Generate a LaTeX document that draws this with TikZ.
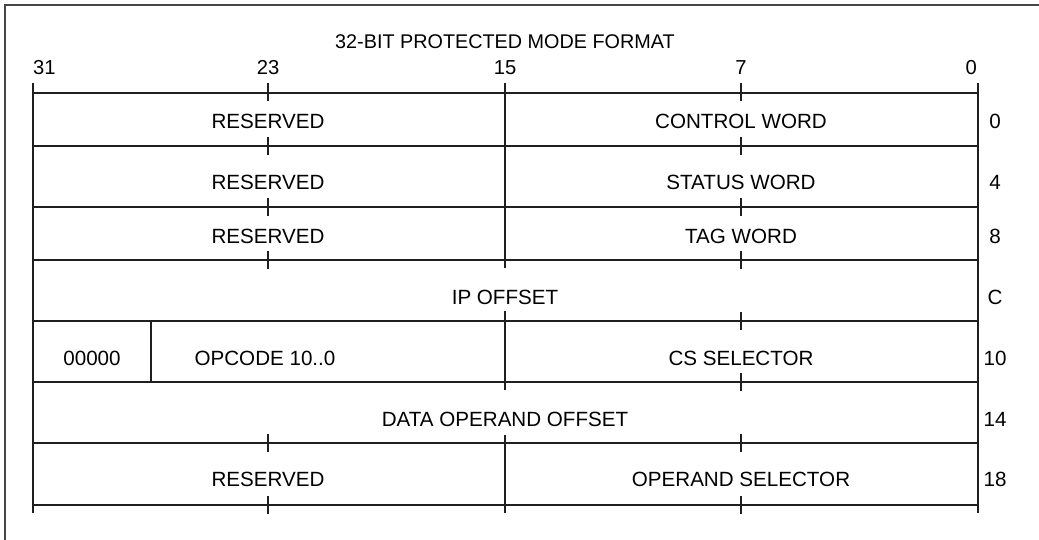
\documentclass[tikz,border=0pt]{standalone}
\usepackage{fontspec}
\setmainfont{Liberation Sans}
\begin{document}
\begin{tikzpicture}[x=1pt,y=-1pt,
  lbl/.style={inner sep=0pt, font=\fontsize{20.6}{24}\selectfont},
  hdr/.style={inner sep=0pt, font=\fontsize{20.2}{24}\selectfont},
  gridline/.style={draw=black!88, line width=1.3pt},
  framelines/.style={draw=black!72, line width=1.7pt}]
\useasboundingbox (0,0) rectangle (1039,540);
% outer frame (open at right and bottom)
\draw[framelines] (5,541) -- (5,5) -- (1040,5);
% title and bit numbers
\node[inner sep=0pt, font=\fontsize{19.8}{24}\selectfont] (title) at (505,42) {32-BIT PROTECTED MODE FORMAT};
\node[hdr, anchor=west] (b31) at (33,68) {31};
\node[hdr] (b23) at (268,68) {23};
\node[hdr] (b15) at (505,68) {15};
\node[hdr] (b7) at (741,68) {7};
\node[hdr, anchor=east] (b0) at (977,68) {0};
% horizontal lines
\foreach \y in {93,146,207,260,321,382,443,505}
  \draw[gridline] (33,\y) -- (978,\y);
% outer verticals
\draw[gridline] (33,83) -- (33,513);
\draw[gridline] (978,83) -- (978,513);
% middle divider (bit 15/16)
\draw[gridline] (505,83) -- (505,268);
\draw[gridline] (505,311) -- (505,390);
\draw[gridline] (505,435) -- (505,513);
% 00000 | opcode divider
\draw[gridline] (151,321) -- (151,382);
% ticks at bit 23
\foreach \y in {146,207,260,443,505}
  \draw[gridline] (268,\y-9) -- (268,\y+9);
\draw[gridline] (268,83) -- (268,101);
% ticks at bit 7
\foreach \y in {146,207,260,321,382,443,505}
  \draw[gridline] (741,\y-9) -- (741,\y+9);
\draw[gridline] (741,83) -- (741,101);
% field labels
\node[lbl] (r0l) at (268,121) {RESERVED};
\node[lbl] (r0r) at (741,121) {CONTROL WORD};
\node[lbl] (r4l) at (268,182.5) {RESERVED};
\node[lbl] (r4r) at (741,182.5) {STATUS WORD};
\node[lbl] (r8l) at (268,236.5) {RESERVED};
\node[lbl] (r8r) at (741,236.5) {TAG WORD};
\node[lbl] (rc) at (505,297) {IP OFFSET};
\node[lbl] (r10a) at (92,358) {00000};
\node[lbl] (r10b) at (265,358) {OPCODE 10..0};
\node[lbl] (r10r) at (741,358) {CS SELECTOR};
\node[lbl] (r14) at (505,419) {DATA OPERAND OFFSET};
\node[lbl] (r18l) at (268,479.5) {RESERVED};
\node[lbl] (r18r) at (741,479.5) {OPERAND SELECTOR};
% offsets
\node[lbl] (o0) at (995,121) {0};
\node[lbl] (o4) at (995,182.5) {4};
\node[lbl] (o8) at (995,236.5) {8};
\node[lbl] (oc) at (995,297) {C};
\node[lbl] (o10) at (995,358) {10};
\node[lbl] (o14) at (995,419) {14};
\node[lbl] (o18) at (995,479.5) {18};
\end{tikzpicture}
\end{document}
